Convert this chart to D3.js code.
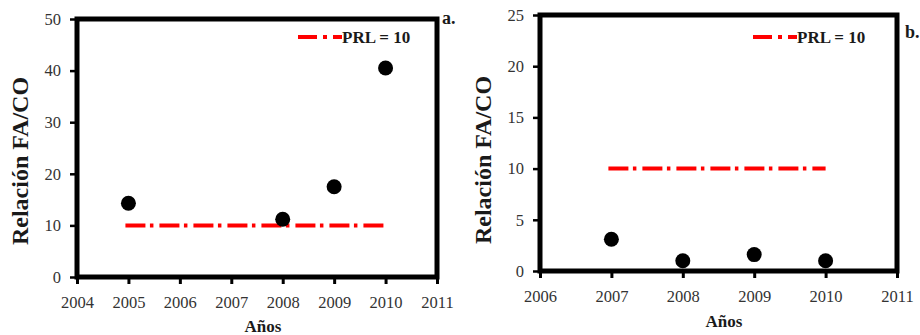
<!DOCTYPE html>
<html>
<head>
<meta charset="utf-8">
<script src="https://cdn.jsdelivr.net/npm/d3@7"></script>
<style>
  html, body { margin: 0; padding: 0; background: #fff; }
  svg { display: block; }
</style>
</head>
<body>
<svg id="chart" width="920" height="335"></svg>
<script>
// Panel a: FA/CO ratio by year
const yearsA = [2005, 2008, 2009, 2010];
const ratioA = [14.3, 11.2, 17.5, 40.5];
const xTicksA = [2004, 2005, 2006, 2007, 2008, 2009, 2010, 2011];
const yTicksA = [0, 10, 20, 30, 40, 50];

// Panel b: FA/CO ratio by year
const yearsB = [2007, 2008, 2009, 2010];
const ratioB = [3.1, 1.0, 1.6, 1.0];
const xTicksB = [2006, 2007, 2008, 2009, 2010, 2011];
const yTicksB = [0, 5, 10, 15, 20, 25];

// Permissible ratio limit
const prl = 10;
const prlSpanA = [2005, 2010];
const prlSpanB = [2007, 2010];

const SERIF = "Liberation Serif";
const svg = d3.select("#chart");
const dashPattern = "20,4.5,3.5,6";

function boldText(g, size) {
  return g.append("text")
    .attr("font-family", SERIF)
    .attr("font-weight", "bold")
    .attr("font-size", size)
    .attr("fill", "#1a1a1a");
}

function panel(cfg) {
  const x = d3.scaleLinear().domain(cfg.xDomain).range([cfg.left, cfg.right]);
  const y = d3.scaleLinear().domain(cfg.yDomain).range([cfg.bottom, cfg.top]);
  const g = svg.append("g");

  // x axis
  const xa = g.append("g")
    .attr("transform", `translate(0,${cfg.bottom})`)
    .call(d3.axisBottom(x).tickValues(cfg.xTicks).tickFormat(d3.format("d")).tickSize(7).tickSizeOuter(0).tickPadding(cfg.xPad))
    .attr("font-family", SERIF).attr("font-size", 16.5);
  xa.select(".domain").remove();
  xa.selectAll(".tick line").attr("stroke", "#000").attr("stroke-width", 3);
  xa.selectAll(".tick text").attr("fill", "#333");

  // y axis
  const ya = g.append("g")
    .attr("transform", `translate(${cfg.left},0)`)
    .call(d3.axisLeft(y).tickValues(cfg.yTicks).tickSize(7).tickSizeOuter(0).tickPadding(9))
    .attr("font-family", SERIF).attr("font-size", 16.5);
  ya.select(".domain").remove();
  ya.selectAll(".tick line").attr("stroke", "#000").attr("stroke-width", 2.5);
  ya.selectAll(".tick text").attr("fill", "#333");

  // plot frame
  g.append("rect")
    .attr("x", cfg.left).attr("y", cfg.top)
    .attr("width", cfg.right - cfg.left).attr("height", cfg.bottom - cfg.top)
    .attr("fill", "none").attr("stroke", "#000").attr("stroke-width", 5);

  // PRL reference line
  g.append("line")
    .attr("x1", x(cfg.prlSpan[0]) - 3).attr("x2", x(cfg.prlSpan[1]))
    .attr("y1", y(prl)).attr("y2", y(prl))
    .attr("stroke", "#ff0000").attr("stroke-width", 4)
    .attr("stroke-dasharray", dashPattern);

  // data points
  g.selectAll("circle.pt")
    .data(cfg.years.map((yr, i) => [yr, cfg.values[i]]))
    .join("circle")
    .attr("class", "pt")
    .attr("cx", d => x(d[0])).attr("cy", d => y(d[1]))
    .attr("r", 7.5).attr("fill", "#000");

  // legend
  g.append("line")
    .attr("x1", cfg.legX).attr("x2", cfg.legX + 44)
    .attr("y1", cfg.legY).attr("y2", cfg.legY)
    .attr("stroke", "#ff0000").attr("stroke-width", 4)
    .attr("stroke-dasharray", "19,6,4,6,9");
  boldText(g, 17)
    .attr("x", cfg.legX + 44).attr("y", cfg.legY + 5.5)
    .text("PRL = " + prl);

  // panel tag
  boldText(g, 18)
    .attr("x", cfg.tagX).attr("y", cfg.tagY)
    .text(cfg.tag);

  // axis titles
  boldText(g, 24)
    .attr("transform", `translate(${cfg.yTitleX},${cfg.yTitleY}) rotate(-90)`)
    .attr("text-anchor", "middle")
    .text("Relación FA/CO");
  boldText(g, 17)
    .attr("x", cfg.xTitleX).attr("y", cfg.xTitleY)
    .attr("text-anchor", "middle")
    .text("Años");
}

panel({
  left: 77, right: 437, top: 19, bottom: 277,
  xDomain: [2004, 2011], yDomain: [0, 50],
  xTicks: xTicksA, yTicks: yTicksA,
  years: yearsA, values: ratioA, prlSpan: prlSpanA,
  legX: 298, legY: 37, tag: "a.", tagX: 442, tagY: 24,
  yTitleX: 28, yTitleY: 161, xTitleX: 263, xTitleY: 332, xPad: 12
});

panel({
  left: 540, right: 897, top: 15, bottom: 271,
  xDomain: [2006, 2011], yDomain: [0, 25],
  xTicks: xTicksB, yTicks: yTicksB,
  years: yearsB, values: ratioB, prlSpan: prlSpanB,
  legX: 753, legY: 37, tag: "b.", tagX: 905, tagY: 38,
  yTitleX: 491, yTitleY: 160, xTitleX: 724, xTitleY: 327, xPad: 12
});
</script>
</body>
</html>
